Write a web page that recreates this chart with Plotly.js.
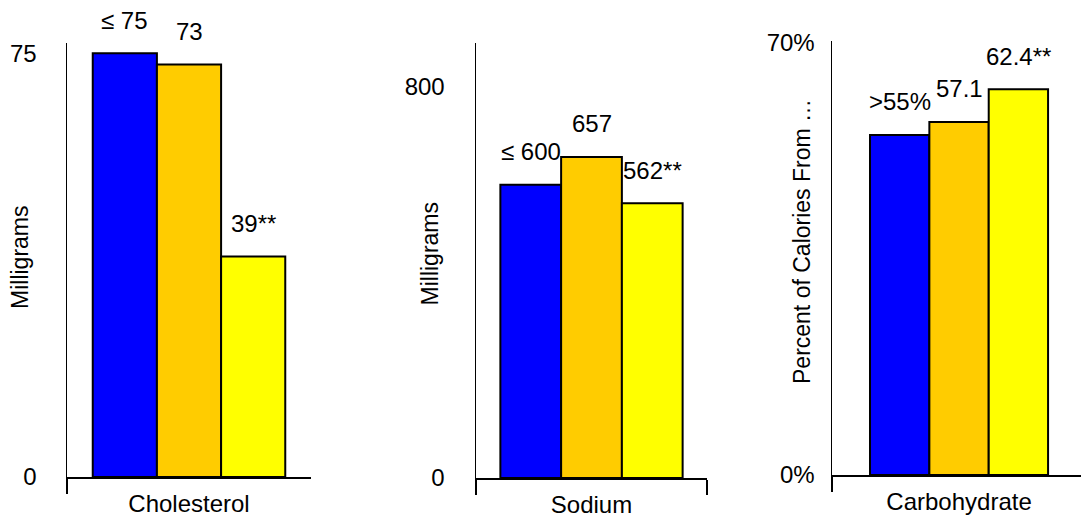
<!DOCTYPE html>
<html><head><meta charset="utf-8">
<script src="https://cdn.plot.ly/plotly-3.0.1.min.js"></script>
<style>html,body{margin:0;padding:0;background:#fff}</style>
</head><body><div id="chart" style="width:1081px;height:527px"></div>
<script>
// ---- data ----
const categories = ["Cholesterol", "Sodium", "Carbohydrate"];
const seriesNames = ["Series 1", "Series 2", "Series 3"];
const cholesterolValues = [75, 73, 39];
const sodiumValues = [600, 657, 562];
const carbohydrateValues = [55, 57.1, 62.4];
const cholesterolLabels = ["≤ 75", "73", "39**"];
const sodiumLabels = ["≤ 600", "657", "562**"];
const carbohydrateLabels = [">55%", "57.1", "62.4**"];
const yTitles = ["Milligrams", "Milligrams", "Percent of Calories From …"];
const yTickVals = [[0, 75], [0, 800], [0, 70]];
const yTickSuffix = ["", "", "%"];

// ---- styling ----
const colors = ["#0000FF", "#FFCC00", "#FFFF00"];
const FONT = "Liberation Sans, Arial, sans-serif";
const TXT = 24;
const values = [cholesterolValues, sodiumValues, carbohydrateValues];
const labels = [cholesterolLabels, sodiumLabels, carbohydrateLabels];
const barW = [0.263, 0.263, 0.2336];
const xRanges = [[-0.5, 0.5], [-0.5, 0.5], [-0.5, 0.48]];
const yRanges = [[0, 76.8], [0, 890], [0, 70.2]];
const xDomains = [[67/1081, 311/1081], [476/1081, 707/1081], [832/1081, 1]];
const yDomains = [[50/527, 484/527], [49/527, 484/527], [52/527, 486/527]];
const tickStand = [24, 25, 11];
const titleShiftX = [-47, -47, -30];
const titleShiftY = [3, 7, 16];

const traces = [];
const annotations = [];
const layout = {
  width: 1081, height: 527,
  margin: {l: 0, r: 0, t: 0, b: 0},
  paper_bgcolor: "#fff", plot_bgcolor: "#fff",
  barmode: "overlay",
  showlegend: false,
  font: {family: FONT, size: TXT, color: "#000"},
  annotations: annotations
};

for (let p = 0; p < 3; p++) {
  const sfx = p === 0 ? "" : String(p + 1);
  const w = barW[p];
  for (let s = 0; s < 3; s++) {
    traces.push({
      type: "bar",
      name: seriesNames[s],
      x: [categories[p]],
      y: [values[p][s]],
      width: w,
      offset: -1.5 * w + s * w,
      xaxis: "x" + sfx, yaxis: "y" + sfx,
      marker: {color: colors[s], line: {color: "#000", width: 2}},
      hoverinfo: "y+name"
    });
    annotations.push({
      xref: "x" + sfx, yref: "y" + sfx,
      x: (s - 1) * w, y: values[p][s],
      text: labels[p][s],
      showarrow: false, yanchor: "middle", yshift: 33,
      font: {family: FONT, size: TXT, color: "#000"}
    });
  }
  // y-axis title
  annotations.push({
    xref: "x" + sfx + " domain", yref: "y" + sfx + " domain",
    x: 0, y: 0.5, xanchor: "center", yanchor: "middle",
    xshift: titleShiftX[p], yshift: titleShiftY[p],
    textangle: -90, showarrow: false,
    text: yTitles[p],
    font: {family: FONT, size: 23, color: "#000"}
  });
  layout["xaxis" + sfx] = {
    type: "category",
    domain: xDomains[p],
    anchor: "y" + sfx,
    range: xRanges[p],
    tickson: "boundaries",
    ticks: "outside", ticklen: 15, tickwidth: 1.5, tickcolor: "#000",
    ticklabelstandoff: 5,
    showline: true, linecolor: "#000", linewidth: 1.5,
    showgrid: false, zeroline: false, fixedrange: true,
    tickfont: {family: FONT, size: TXT, color: "#000"}
  };
  layout["yaxis" + sfx] = {
    domain: yDomains[p],
    anchor: "x" + sfx,
    range: yRanges[p],
    tickmode: "array",
    tickvals: yTickVals[p],
    ticktext: yTickVals[p].map(v => v + yTickSuffix[p]),
    ticks: "",
    ticklabelstandoff: tickStand[p],
    showline: true, linecolor: "#000", linewidth: 1.5,
    showgrid: false, zeroline: false, fixedrange: true,
    tickfont: {family: FONT, size: TXT, color: "#000"}
  };
}

Plotly.newPlot("chart", traces, layout, {displayModeBar: false, staticPlot: true});
</script>
</body></html>
